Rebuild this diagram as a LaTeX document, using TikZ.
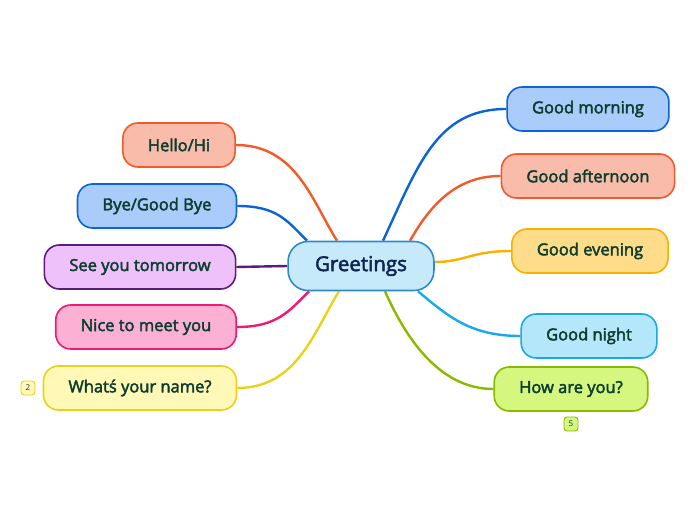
\documentclass[tikz,border=0pt]{standalone}
\usepackage{fontspec}
\setmainfont{Open Sans}
\newfontfamily\semi{Open Sans}[FakeBold=2.6]
\usetikzlibrary{positioning,calc,backgrounds}
\definecolor{Txt}{HTML}{0C3D2E}
\definecolor{Navy}{HTML}{0E2452}
\definecolor{CoreF}{HTML}{C7EAFB}\definecolor{CoreD}{HTML}{2D8BCB}
\definecolor{BlueF}{HTML}{A9CCFB}\definecolor{BlueD}{HTML}{0A64D6}
\definecolor{OrgF}{HTML}{F9BCAA}\definecolor{OrgD}{HTML}{F25A29}
\definecolor{AmbF}{HTML}{FFDC8A}\definecolor{AmbD}{HTML}{F9B100}
\definecolor{CyanF}{HTML}{B4E7FA}\definecolor{CyanD}{HTML}{17A9E8}
\definecolor{LimeF}{HTML}{D5F77F}\definecolor{LimeD}{HTML}{89BA00}
\definecolor{PurF}{HTML}{EEC1FA}\definecolor{PurD}{HTML}{5A1B7B}
\definecolor{PinkF}{HTML}{FCB1D4}\definecolor{PinkD}{HTML}{EF1A74}
\definecolor{YelF}{HTML}{FFF8B6}\definecolor{YelD}{HTML}{E9D21B}
\tikzset{topic/.style={rounded corners=15pt,minimum height=44pt,inner xsep=25pt,line width=1.6pt,font=\semi\fontsize{16.5}{19}\selectfont,text=Txt},
core/.style={topic,draw=CoreD,fill=CoreF,rounded corners=20pt,minimum height=49pt,inner xsep=27pt,font=\semi\fontsize{20.5}{24}\selectfont,text=Navy},
badge/.style={rounded corners=3pt,minimum size=14pt,inner sep=1pt,line width=.9pt,font=\fontsize{8}{9}\selectfont,text=Txt},
link/.style={line width=2.4pt}}
\begin{document}
\begin{tikzpicture}[x=1pt,y=1pt]
\useasboundingbox (0,0) rectangle (696,520);
\node[core] (g) at (361,254) {Greetings};
% right side
\node[topic,draw=BlueD,fill=BlueF] (morning) at (588,411) {Good morning};
\node[topic,draw=OrgD,fill=OrgF] (afternoon) at (588,344) {Good afternoon};
\node[topic,draw=AmbD,fill=AmbF] (evening) at (590,269) {Good evening};
\node[topic,draw=CyanD,fill=CyanF] (night) at (589,184) {Good night};
\node[topic,draw=LimeD,fill=LimeF] (how) at (571,131) {How are you?};
\node[badge,draw=LimeD,fill=LimeF] (five) at (571,96) {5};
% left side
\node[topic,draw=OrgD,fill=OrgF] (hello) at (179,375) {Hello/Hi};
\node[topic,draw=BlueD,fill=BlueF] (bye) at (157,314) {Bye/Good Bye};
\node[topic,draw=PurD,fill=PurF] (see) at (140,253) {See you tomorrow};
\node[topic,draw=PinkD,fill=PinkF] (nice) at (146,193) {Nice to meet you};
\node[topic,draw=YelD,fill=YelF] (name) at (140,132) {Whatś your name?};
\node[badge,draw=YelD,fill=YelF] (two) at (28,132) {2};
% links
\begin{pgfonlayer}{background}
\draw[link,BlueD] (morning.west) .. controls +(-70,0) and +(35,75) .. ([xshift=22pt]g.north);
\draw[link,OrgD] (afternoon.west) .. controls +(-45,0) and +(20,35) .. ([xshift=49pt]g.north);
\draw[link,AmbD] (evening.west) .. controls +(-40,0) and +(30,0) .. ([yshift=4pt]g.east);
\draw[link,CyanD] (night.west) .. controls +(-50,0) and +(30,-25) .. ([xshift=57pt]g.south);
\draw[link,LimeD] (how.west) .. controls +(-55,0) and +(20,-45) .. ([xshift=24pt]g.south);
\draw[link,OrgD] (hello.east) .. controls +(60,0) and +(-25,40) .. ([xshift=-24pt]g.north);
\draw[link,BlueD] (bye.east) .. controls +(40,0) and +(-20,20) .. ([xshift=-54pt]g.north);
\draw[link,PurD] (see.east) -- (g.west);
\draw[link,PinkD] (nice.east) .. controls +(40,0) and +(-20,-20) .. ([xshift=-52pt]g.south);
\draw[link,YelD] (name.east) .. controls +(60,0) and +(-25,-40) .. ([xshift=-22pt]g.south);
\end{pgfonlayer}
\end{tikzpicture}
\end{document}
